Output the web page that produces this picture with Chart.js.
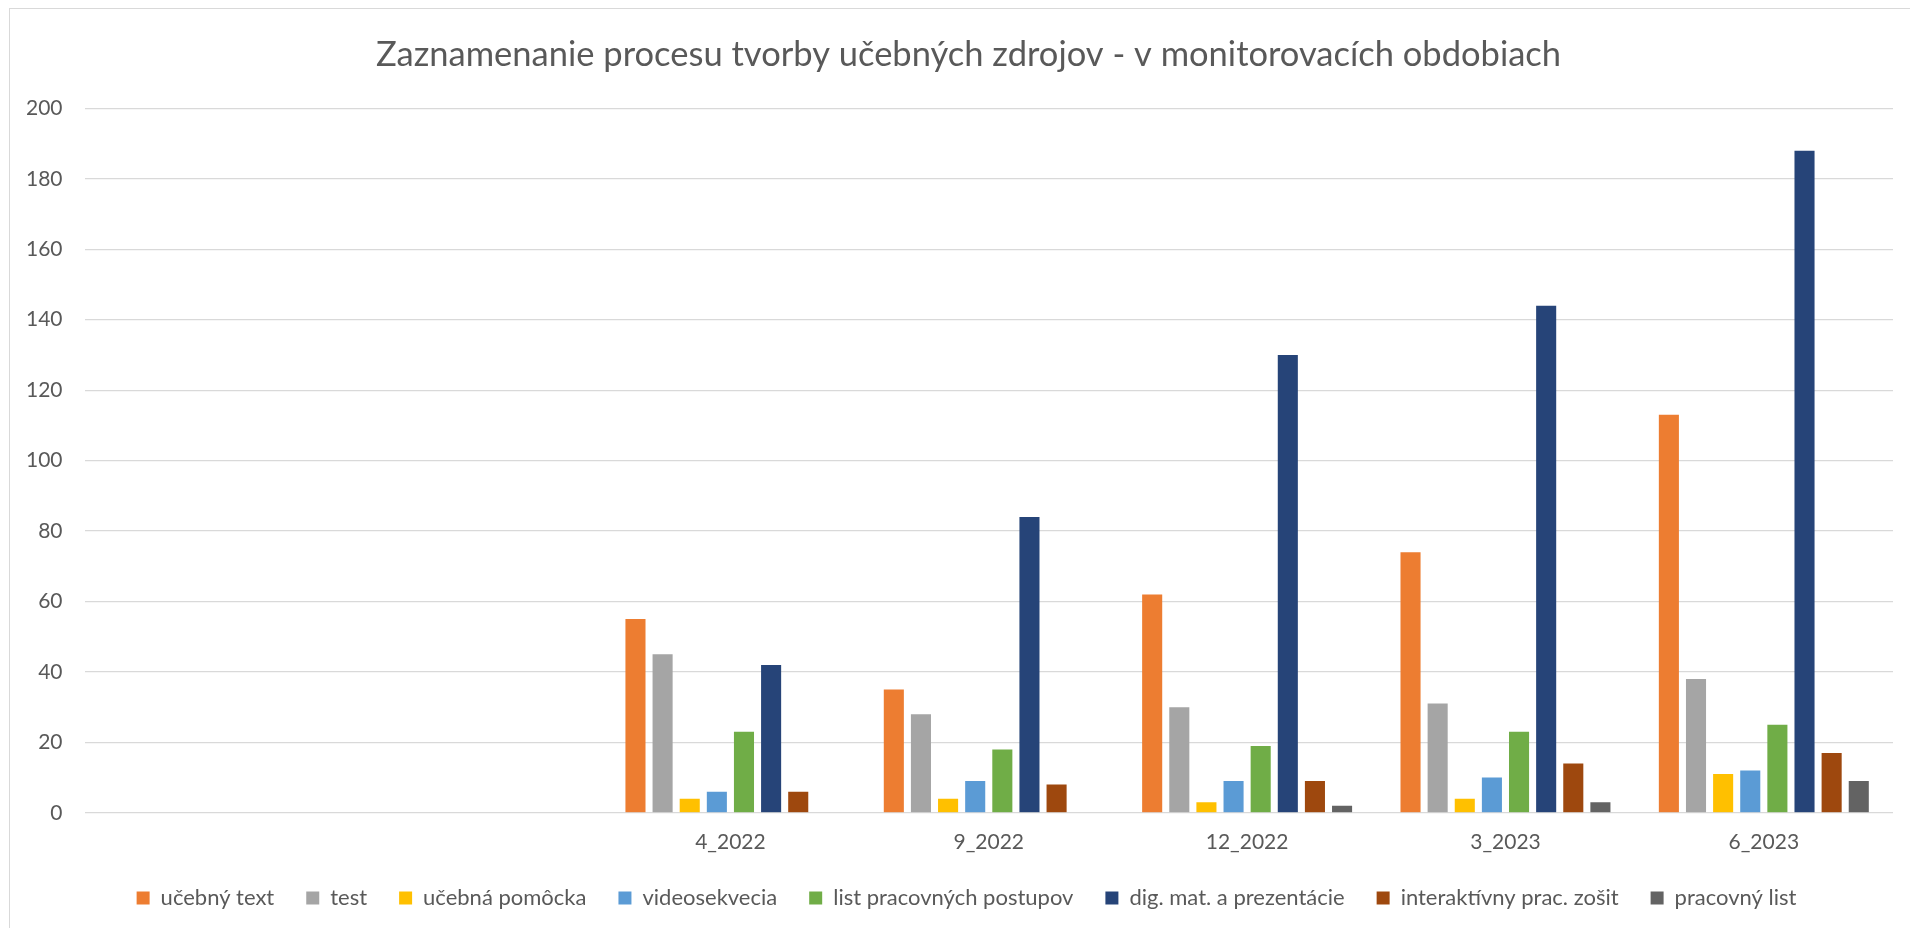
<!DOCTYPE html>
<html>
<head>
    <title>Zaznamenanie procesu tvorby učebných zdrojov</title>
    <meta charset="utf-8">
    <script src="https://cdn.jsdelivr.net/npm/chart.js"></script>
    <style>
    html, body {
        margin: 0;
        padding: 0;
        background: #ffffff;
    }
    .frame {
        position: absolute;
        left: 9px;
        top: 8px;
        width: 1920px;
        height: 940px;
        border-left: 1px solid #d9d9d9;
        border-top: 1px solid #d9d9d9;
    }
    .wrap {
        position: absolute;
        left: 0;
        top: 0;
        width: 1910px;
        height: 928px;
    }
    </style>
</head>
<body>
<div class="frame"></div>
<div class="wrap">
    <canvas id="barChart"></canvas>
</div>

<script>
    // two empty periods at the start, as in the source sheet
    const periods = ['', '', '4_2022', '9_2022', '12_2022', '3_2023', '6_2023'];

    const ucebnyText      = [null, null, 55, 35, 62, 74, 113];
    const test            = [null, null, 45, 28, 30, 31, 38];
    const ucebnaPomocka   = [null, null, 4, 4, 3, 4, 11];
    const videosekvencia  = [null, null, 6, 9, 9, 10, 12];
    const listPostupov    = [null, null, 23, 18, 19, 23, 25];
    const digMat          = [null, null, 42, 84, 130, 144, 188];
    const interaktivny    = [null, null, 6, 8, 9, 14, 17];
    const pracovnyList    = [null, null, 0, 0, 2, 3, 9];

    const yTicks = [0, 20, 40, 60, 80, 100, 120, 140, 160, 180, 200];

    const textColor = '#595959';
    const fontFamily = 'Lato, "Liberation Sans", sans-serif';

    const data = {
        labels: periods,
        datasets: [
            { label: 'učebný text', data: ucebnyText, backgroundColor: '#ED7D31' },
            { label: 'test', data: test, backgroundColor: '#A5A5A5' },
            { label: 'učebná pomôcka', data: ucebnaPomocka, backgroundColor: '#FFC000' },
            { label: 'videosekvecia', data: videosekvencia, backgroundColor: '#5B9BD5' },
            { label: 'list pracovných postupov', data: listPostupov, backgroundColor: '#70AD47' },
            { label: 'dig. mat. a prezentácie', data: digMat, backgroundColor: '#264478' },
            { label: 'interaktívny prac. zošit', data: interaktivny, backgroundColor: '#9E480E' },
            { label: 'pracovný list', data: pracovnyList, backgroundColor: '#636363' },
        ]
    };

    data.datasets.forEach(ds => {
        ds.categoryPercentage = 0.84;
        ds.barPercentage = 0.74;
        ds.borderWidth = 0;
    });

    // title and legend sit a bit right of the canvas centre in the original
    const nudgeBoxes = {
        id: 'nudgeBoxes',
        afterLayout(chart) {
            if (chart.titleBlock) {
                chart.titleBlock.left += 20;
                chart.titleBlock.right += 20;
            }
            if (chart.legend) {
                chart.legend.left += 18;
                chart.legend.right += 18;
            }
        }
    };

    const options = {
        responsive: true,
        maintainAspectRatio: false,
        animation: false,
        layout: {
            padding: { left: 4, right: 17, top: 10, bottom: 9 }
        },
        plugins: {
            title: {
                display: true,
                text: 'Zaznamenanie procesu tvorby učebných zdrojov - v monitorovacích obdobiach',
                color: textColor,
                font: { family: fontFamily, size: 34.5, weight: 'normal' },
                padding: { top: 24, bottom: 33 }
            },
            legend: {
                position: 'bottom',
                labels: {
                    color: textColor,
                    font: { family: fontFamily, size: 22 },
                    boxWidth: 13,
                    boxHeight: 13,
                    padding: 32
                }
            },
            tooltip: { enabled: false }
        },
        scales: {
            x: {
                grid: { display: false, drawTicks: false },
                border: { display: false },
                ticks: {
                    color: textColor,
                    font: { family: fontFamily, size: 21 },
                    padding: 17,
                    maxRotation: 0
                },
                // padding is counted twice by default, keep it once
                afterFit: axis => {
                    axis.height -= 17;
                }
            },
            y: {
                min: 0,
                max: 200,
                afterBuildTicks: axis => {
                    axis.ticks = yTicks.map(v => ({ value: v }));
                },
                grid: { color: '#d9d9d9', lineWidth: 1.3, drawTicks: false },
                border: { display: false },
                ticks: {
                    color: textColor,
                    font: { family: fontFamily, size: 21 },
                    padding: 22
                }
            }
        }
    };

    new Chart(document.getElementById('barChart').getContext('2d'), {
        type: 'bar',
        data: data,
        options: options,
        plugins: [nudgeBoxes]
    });
</script>
</body>
</html>
